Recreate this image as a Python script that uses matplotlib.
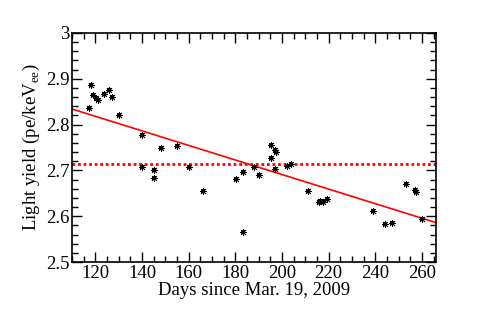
import matplotlib
matplotlib.use("Agg")
import matplotlib.pyplot as plt
from matplotlib.ticker import MultipleLocator, FormatStrFormatter

plt.rcParams['font.family'] = ['Liberation Serif', 'DejaVu Serif']
plt.rcParams['mathtext.fontset'] = 'custom'
plt.rcParams['mathtext.rm'] = 'Liberation Serif'

days = [117.2, 118.1, 119.1, 120.1, 121.1, 123.9, 125.8, 127.1, 130.1,
        140.1, 140.1, 145.2, 145.2, 148.1, 155.1, 160.1, 166.2,
        180.1, 183.1, 183.1, 188.1, 190.1, 195.1, 195.1, 197.1, 197.3, 197.1,
        202.2, 203.9, 211.1, 215.9, 216.4, 217.6, 219.1,
        239.1, 244.1, 247.0, 253.0, 256.9, 257.6, 260.1]
light_yield = [2.837, 2.886, 2.864, 2.857, 2.853, 2.867, 2.875, 2.861, 2.821,
               2.777, 2.708, 2.701, 2.683, 2.748, 2.753, 2.707, 2.656,
               2.681, 2.697, 2.565, 2.708, 2.691, 2.756, 2.726, 2.744, 2.741, 2.702,
               2.710, 2.714, 2.656, 2.631, 2.634, 2.631, 2.638,
               2.611, 2.584, 2.586, 2.670, 2.657, 2.653, 2.594]

fit_x = [110, 266]
fit_y = [2.834, 2.586]
mean_y = 2.714

fig = plt.figure(figsize=(4.85, 3.28), dpi=100)
ax = fig.add_axes([0.1485, 0.2012, 0.7505, 0.6982])

ax.plot(fit_x, fit_y, color='red', lw=1.2, zorder=2)
ax.axhline(mean_y, color='red', lw=2, linestyle=(0, (1, 1)), zorder=2)
ax.plot(days, light_yield, linestyle='none', marker=(8, 2, 0), ms=5,
        mec='black', mew=0.6, color='black', zorder=3)
ax.plot(days, light_yield, linestyle='none', marker='s', ms=2.5,
        color='black', mew=0, zorder=4)

ax.set_xlim(110, 266)
ax.set_ylim(2.5, 3.0)
ax.xaxis.set_major_locator(MultipleLocator(20))
ax.xaxis.set_minor_locator(MultipleLocator(5))
ax.yaxis.set_major_locator(MultipleLocator(0.1))
ax.yaxis.set_minor_locator(MultipleLocator(0.02))
ax.yaxis.set_major_formatter(FormatStrFormatter('%g'))
ax.tick_params(which='both', direction='in', top=True, right=True, labelsize=13.5, width=1)
ax.tick_params(which='major', length=7, pad=2)
ax.tick_params(which='minor', length=4)
for s in ax.spines.values():
    s.set_linewidth(1.2)

ax.set_xlabel('Days since Mar. 19, 2009', fontsize=13.5, labelpad=0)
ax.set_ylabel(r'Light yield (pe/keV$_{\mathrm{ee}}$)', fontsize=13.5, labelpad=3)

fig.savefig('out.png', dpi=100)
